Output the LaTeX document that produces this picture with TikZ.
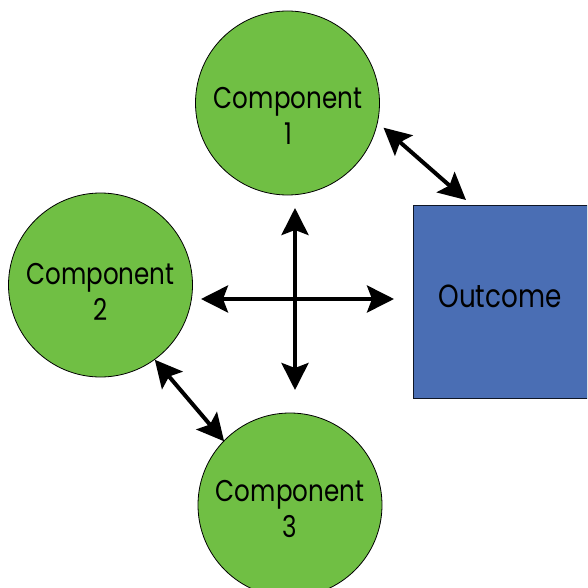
\documentclass[tikz,border=0pt]{standalone}
\usepackage{fontspec}
\setmainfont{Poppins}[FakeStretch=0.82]
\usetikzlibrary{arrows.meta}

\definecolor{compgreen}{RGB}{112,191,68}
\definecolor{outblue}{RGB}{74,110,180}

\tikzset{every picture/.style={line width=0.75pt}}
\tikzset{
  comp/.style={circle, draw=black, line width=0.8pt, fill=compgreen, minimum size=184pt, inner sep=0pt},
  comptext/.style={align=center, inner sep=0pt, font=\fontsize{30}{36}\selectfont},
  outbox/.style={rectangle, draw=black!80!outblue, line width=0.8pt, fill=outblue, minimum width=174pt, minimum height=193pt, inner sep=0pt},
  outtext/.style={inner sep=0pt, anchor=base, font=\fontsize{32}{38}\selectfont},
  link/.style={line width=4pt, {Stealth[length=27pt,width=27pt,inset=5pt]}-{Stealth[length=27pt,width=27pt,inset=5pt]}}
}

\begin{document}
\begin{tikzpicture}[x=1pt,y=1pt,yscale=-1,xscale=1]
\useasboundingbox (0,0) rectangle (587,588);
\clip (0,0) rectangle (587,588);

% Text Node
\node[comp] (comp1) at (287.5,103) {};
\node[comptext] (comp1text) at (288,116) {Component\\1};
% Text Node
\node[comp] (comp2) at (100.5,285) {};
\node[comptext] (comp2text) at (100.5,292) {Component\\2};
% Text Node
\node[comp] (comp3) at (290,505) {};
\node[comptext] (comp3text) at (290,509) {Component\\3};
% Text Node
\node[outbox] (outcome) at (500,301.5) {};
\node[outtext] (outcometext) at (500,307) {Outcome};

% Cross ends
\coordinate (crossN) at (295,208);
\coordinate (crossS) at (295,390);
\coordinate (crossW) at (201,299);
\coordinate (crossE) at (394,299);
\coordinate (outtop) at (466,200);

% Connection
\draw[link] ([shift={(-17:8)}]comp1.-17) -- (outtop);
% Connection
\draw[link] (comp2.-54) -- ([shift={(131:8)}]comp3.131);
% Connection
\draw[link] (crossN) -- (crossS);
% Connection
\draw[link] (crossW) -- (crossE);

\end{tikzpicture}
\end{document}
